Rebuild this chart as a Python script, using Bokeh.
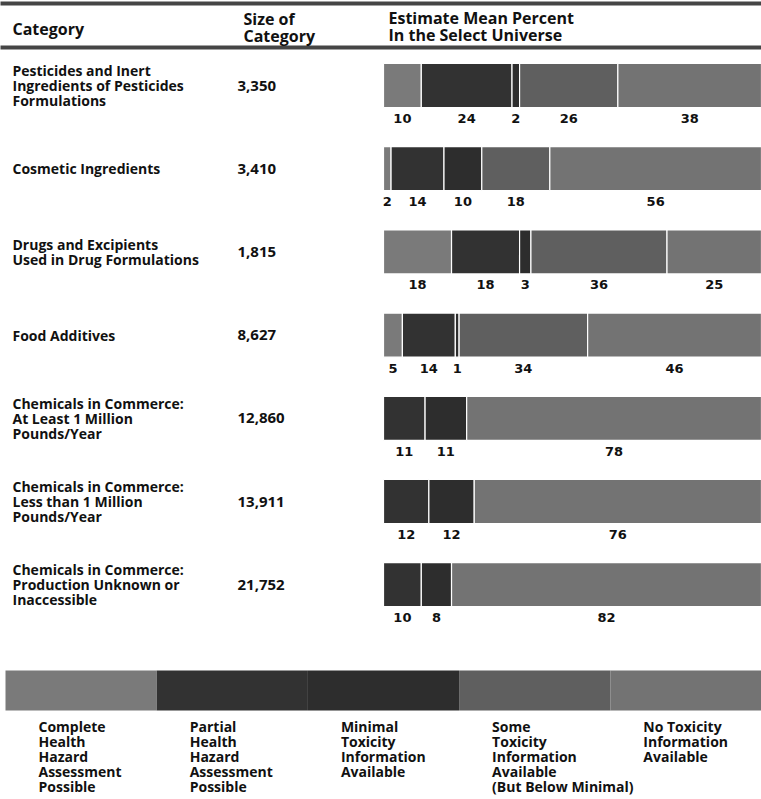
from bokeh.plotting import figure
from bokeh.models import Range1d, ColumnDataSource
from bokeh.core.properties import value
from bokeh.embed import file_html
from bokeh.resources import INLINE

# ---------------- data ----------------
categories = [
    "Pesticides and Inert\nIngredients of Pesticides\nFormulations",
    "Cosmetic Ingredients",
    "Drugs and Excipients\nUsed in Drug Formulations",
    "Food Additives",
    "Chemicals in Commerce:\nAt Least 1 Million\nPounds/Year",
    "Chemicals in Commerce:\nLess than 1 Million\nPounds/Year",
    "Chemicals in Commerce:\nProduction Unknown or\nInaccessible",
]
sizes = ["3,350", "3,410", "1,815", "8,627", "12,860", "13,911", "21,752"]
complete = [10, 2, 18, 5, 0, 0, 0]
partial = [24, 14, 18, 14, 11, 12, 10]
minimal = [2, 10, 3, 1, 11, 12, 8]
some = [26, 18, 36, 34, 0, 0, 0]
no_info = [38, 56, 25, 46, 78, 76, 82]
levels = [
    "Complete\nHealth\nHazard\nAssessment\nPossible",
    "Partial\nHealth\nHazard\nAssessment\nPossible",
    "Minimal\nToxicity\nInformation\nAvailable",
    "Some\nToxicity\nInformation\nAvailable\n(But Below Minimal)",
    "No Toxicity\nInformation\nAvailable",
]
headers = ["Category", "Size of\nCategory", "Estimate Mean Percent\nIn the Select Universe"]
colors = ["#7a7a7a", "#323232", "#2d2d2d", "#5f5f5f", "#737373"]

# ---------------- layout ----------------
W, H = 761, 799
PX = 3.78          # pixels per percent
BAR_X0 = 383       # pixel where 0 % sits
ROW0, ROW_STEP, BAR_H = 85, 83.2, 44


def px2x(px):
    return (px - BAR_X0) / PX


p = figure(width=W, height=H, output_backend="svg", toolbar_location=None,
           x_range=Range1d(px2x(0), px2x(W)), y_range=Range1d(H, 0),
           min_border=0, outline_line_color=None, background_fill_color="white")
p.axis.visible = False
p.grid.visible = False

BOLD = value("Open Sans")
INK = "#111111"

# header rules
p.segment(x0=[px2x(-10)] * 2, x1=[px2x(W + 10)] * 2, y0=[3, 47], y1=[3, 47],
          line_color="#454545", line_width=4)

# headers
p.text(x=[px2x(12), px2x(243), px2x(388)], y=[28, 27, 26], text=headers,
       text_font=BOLD, text_font_style="bold", text_font_size="16px",
       text_baseline="middle", text_align="left", text_line_height=0.74, text_color=INK)

# rows
series = [complete, partial, minimal, some, no_info]
rows_y = [ROW0 + i * ROW_STEP for i in range(len(categories))]

seg = dict(y=[], left=[], right=[], color=[], mid=[], ly=[], lab=[])
for i, yc in enumerate(rows_y):
    acc = 0
    for k, s in enumerate(series):
        v = s[i]
        if v <= 0:
            continue
        seg["y"].append(yc)
        seg["left"].append(acc)
        seg["right"].append(acc + v)
        seg["color"].append(colors[k])
        seg["mid"].append(acc + v / 2)
        seg["ly"].append(yc + BAR_H / 2 + 11)
        seg["lab"].append(str(v))
        acc += v
src = ColumnDataSource(seg)
p.hbar(y="y", left="left", right="right", height=BAR_H, fill_color="color",
       line_color="white", line_width=1.2, source=src)
p.text(x="mid", y="ly", text="lab", source=src, text_font=value("DejaVu Sans"),
       text_font_style="bold", text_font_size="13px", text_align="center",
       text_baseline="middle", text_color=INK)

p.text(x=[px2x(12)] * len(categories), y=rows_y, text=categories,
       text_font=BOLD, text_font_style="bold", text_font_size="14px",
       text_baseline="middle", text_align="left", text_line_height=0.79, text_color=INK)
p.text(x=[px2x(237)] * len(sizes), y=rows_y, text=sizes,
       text_font=BOLD, text_font_style="bold", text_font_size="15px",
       text_baseline="middle", text_align="left", text_color=INK)

# legend bar
n = len(levels)
lw = 200 / n
leg_left = [-100 + k * lw for k in range(n)]
leg_right = [l + lw for l in leg_left]
p.hbar(y=[690] * n, left=leg_left, right=leg_right, height=40,
       fill_color=colors, line_color=None)
p.text(x=leg_left, y=[716] * n, text=levels, x_offset=33,
       text_font=BOLD, text_font_style="bold", text_font_size="14px",
       text_baseline="top", text_align="left", text_line_height=0.8, text_color=INK)

open("out.html", "w").write(file_html(p, INLINE))
